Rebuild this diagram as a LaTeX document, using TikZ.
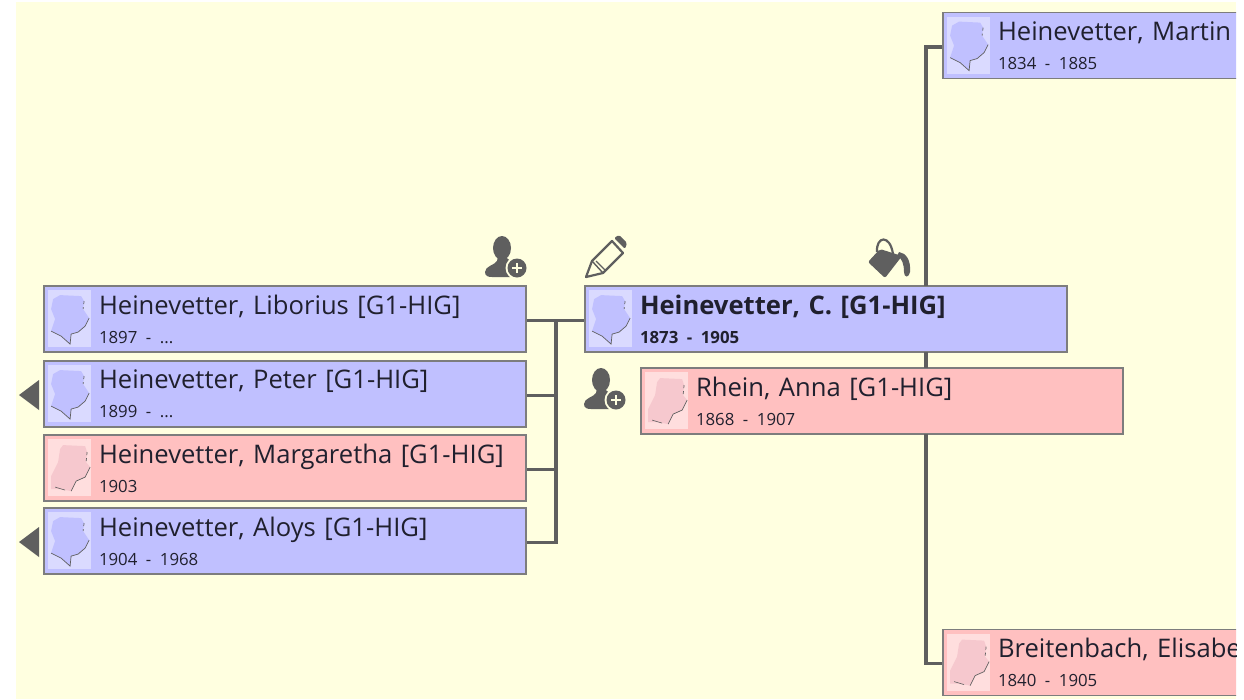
\documentclass[tikz,border=0pt]{standalone}
\usepackage{fontspec}
\setmainfont{Open Sans}
\usetikzlibrary{arrows.meta, positioning}
\definecolor{canvascol}{HTML}{FFFFE0}
\definecolor{malecol}{HTML}{C0C0FF}
\definecolor{malelight}{HTML}{DADAFF}
\definecolor{femalecol}{HTML}{FFC0C0}
\definecolor{femalelight}{HTML}{FFDEDE}
\definecolor{femalehair}{HTML}{F6C8CE}
\definecolor{linecol}{HTML}{5F5F5F}
\definecolor{framecol}{HTML}{7D7D7D}
\definecolor{textcol}{HTML}{20202E}
\newcommand{\yearfont}{\fontsize{16.8}{29}\selectfont}
\tikzset{
	person/.style={rectangle, draw=framecol, line width=1.8pt, minimum height=66pt,
		inner xsep=55pt, inner ysep=0pt, text width=372pt, align=left, text=textcol,
		font=\fontsize{25.6}{29}\selectfont},
	malebox/.style={person, fill=malecol},
	femalebox/.style={person, fill=femalecol},
	wire/.style={draw=linecol, line width=3.2pt},
	icon/.style={fill=linecol, draw=none},
	pics/malehead/.style={code={
		\fill[malelight] (5,5) rectangle (48,62);
		\fill[malecol] (17,10) -- (38,11) -- (41,16) -- (40,24) -- (46,33) -- (42,41) -- (35,47)
			-- (28,49) -- (27,59) -- (18,51) -- (8,46) -- (12,34) -- (8,24) -- (10,14) -- cycle;
		\draw[linecol, line width=.7pt, dashed] (41,16) -- (40,24);
		\draw[linecol, line width=.7pt] (46,33) -- (42,41) -- (35,47) -- (28,49) -- (27,59) -- (18,51) -- (8,46);
	}},
	pics/femalehead/.style={code={
		\fill[femalelight] (5,5) rectangle (48,62);
		\fill[femalehair] (20,11) -- (42,12) -- (44,18) -- (43,28) -- (47,33) -- (42,43) -- (33,47)
			-- (28,57) -- (17,55) -- (8,55) -- (8,42) -- (15,28) -- (17,15) -- cycle;
		\draw[linecol, line width=.7pt, dashed] (44,18) -- (43,28);
		\draw[linecol, line width=.7pt] (47,33) -- (42,43) -- (33,47) -- (28,57);
		\draw[linecol, line width=.6pt] (12,53) -- (22,56);
	}},
	pics/addperson/.style={code={
		\fill[icon] (0,0) ellipse (9 and 12);
		\fill[icon] (-4,8) -- (-5,13) .. controls (-7,17) and (-17,18) .. (-17,24)
			.. controls (-17,28) and (-14,29) .. (-10,29) -- (8,29) -- (14,14)
			.. controls (9,13) and (5,12) .. (4,8) -- cycle;
		\fill[canvascol] (15,20) circle (11.5);
		\fill[icon] (15,20) circle (9.5);
		\draw[canvascol, line width=2pt] (10,20) -- (20,20) (15,15) -- (15,25);
	}}
}

\begin{document}
\begin{tikzpicture}[x=1pt, y=-1pt]
	\useasboundingbox (0,0) rectangle (1244,699);
	\fill[canvascol] (16,2) rectangle (1236,699);

	\begin{scope}
		\clip (16,2) rectangle (1236,699);

		% Fratelli a sinistra
		\node[malebox] (liborius) at (285,319) {Heinevetter, Liborius [G1-HIG]\\{\yearfont 1897 - ...}};
		\node[malebox] (peter) at (285,394) {Heinevetter, Peter [G1-HIG]\\{\yearfont 1899 - ...}};
		\node[femalebox] (margaretha) at (285,468) {\mbox{Heinevetter, Margaretha [G1-HIG]}\\{\yearfont 1903}};
		\node[malebox] (aloys) at (285,541) {Heinevetter, Aloys [G1-HIG]\\{\yearfont 1904 - 1968}};

		% Persona centrale e coniuge
		\node[malebox] (carl) at (826,319) {\textbf{Heinevetter, C. [G1-HIG]}\\{\yearfont\textbf{1873 - 1905}}};
		\node[femalebox] (anna) at (882,401) {Rhein, Anna [G1-HIG]\\{\yearfont 1868 - 1907}};

		% Genitori, tagliati dal bordo
		\node[malebox] (martin) at (1184,45.5) {Heinevetter, Martin\\{\yearfont 1834 - 1885}};
		\node[femalebox] (elisabeth) at (1184,662.5) {Breitenbach, Elisabe\\{\yearfont 1840 - 1905}};
	\end{scope}

	\pic at (liborius.north west) {malehead};
	\pic at (peter.north west) {malehead};
	\pic at (margaretha.north west) {femalehead};
	\pic at (aloys.north west) {malehead};
	\pic at (carl.north west) {malehead};
	\pic at (anna.north west) {femalehead};
	\pic at (martin.north west) {malehead};
	\pic at (elisabeth.north west) {femalehead};

	% Collegamenti
	\coordinate (bus) at (556,321);
	\coordinate (carltop) at (926,286);
	\coordinate (carlbottom) at (926,352);
	\coordinate (annatop) at (926,368);
	\coordinate (annabottom) at (926,434);
	\draw[wire] ([yshift=-1.5pt]liborius.east) -- ([yshift=-1.5pt]carl.west);
	\draw[wire] (bus) |- ([yshift=-1.5pt]peter.east);
	\draw[wire] (bus) |- ([yshift=-1.5pt]margaretha.east);
	\draw[wire] (bus) |- ([yshift=-1.5pt]aloys.east);
	\draw[wire] ([yshift=-1.5pt]martin.west) -| (carltop);
	\draw[wire] (carlbottom) -- (annatop);
	\draw[wire] ([yshift=-1pt]elisabeth.west) -| (annabottom);

	% Frecce e icone
	\coordinate (peterarrow) at (39,395);
	\coordinate (aloysarrow) at (39,542);
	\fill[icon] (peterarrow) -- ++(0,-15) -- ++(-20,15) -- ++(20,15) -- cycle;
	\fill[icon] (aloysarrow) -- ++(0,-15) -- ++(-20,15) -- ++(20,15) -- cycle;
	\pic at (502,248) {addperson};
	\pic at (601,380) {addperson};

	% Matita
	\draw[linecol, line width=2.2pt, line join=round] (586,277) -- (592,261) -- (612,241) -- (623,253) -- (603,273) -- cycle;
	\draw[linecol, line width=1.4pt] (592,261) -- (603,273) (596,261) -- (605,270);
	\fill[icon, rounded corners=1.5pt] (614,238) -- (619,235) -- (627,243) -- (625,249) -- cycle;

	% Secchiello
	\fill[icon, rounded corners=2pt] (868,262) -- (880,249) -- (902,256) -- (885,278) -- cycle;
	\draw[linecol, line width=2.2pt] (877,252) .. controls (876,236) and (890,234) .. (893,254);
	\fill[icon] (899,252) .. controls (906,253) and (911,260) .. (910,272)
		.. controls (909,278) and (904,278) .. (904,272) .. controls (904,264) and (902,258) .. (897,256) -- cycle;
\end{tikzpicture}
\end{document}
